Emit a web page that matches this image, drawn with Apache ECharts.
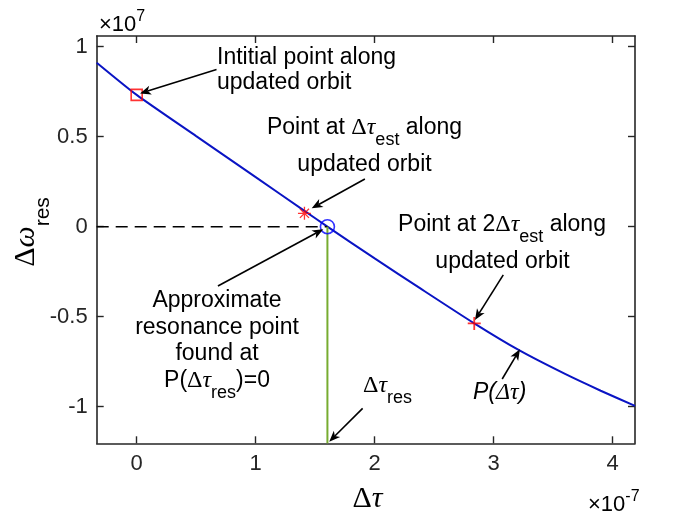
<!DOCTYPE html>
<html><head><meta charset="utf-8">
<script src="https://cdn.jsdelivr.net/npm/echarts@6/dist/echarts.min.js"></script>
<style>html,body{margin:0;padding:0;background:#fff}#c{width:676px;height:524px}</style>
</head><body><div id="c"></div>
<script>
// ---- data (x in units of 1e-7, y in units of 1e7) ----
const curveX = [-0.336, 0, 0.5, 1.0, 1.41, 1.603, 2.0, 2.4, 2.837, 3.221, 3.6, 3.9, 4.188];
const curveY = [0.911, 0.732, 0.503, 0.275, 0.088, 0.0, -0.176, -0.350, -0.537, -0.689, -0.818, -0.911, -0.995];
const initialPoint = [0, 0.732];
const estPoint = [1.41, 0.074];
const est2Point = [2.837, -0.537];
const resPoint = [1.603, 0];
const xTicks = [0, 1, 2, 3, 4];
const yTicks = [-1, -0.5, 0, 0.5, 1];
const xMin = -0.336, xMax = 4.188, yMin = -1.203, yMax = 1.059;

// annotation arrows in data coordinates [from, to]
const arrows = [
  [[0.671, 0.873], [0.028, 0.740]],
  [[1.918, 0.265], [1.471, 0.102]],
  [[0.683, -0.329], [1.568, -0.014]],
  [[3.081, -0.268], [2.843, -0.518]],
  [[3.072, -0.846], [3.221, -0.681]],
  [[1.899, -1.009], [1.618, -1.194]]
];

const AX = '#262626';
const SANS = 'Liberation Sans';
const SERIF = 'Liberation Serif';
const chart = echarts.init(document.getElementById('c'), null, {renderer: 'canvas'});

function axisCommon(pos, ticks, showLabel) {
  return {
    type: 'value', position: pos, min: pos === 'bottom' || pos === 'top' ? xMin : yMin,
    max: pos === 'bottom' || pos === 'top' ? xMax : yMax,
    axisLine: {show: true, onZero: false, lineStyle: {color: AX, width: 1.6}},
    axisTick: {show: true, inside: true, length: 7, customValues: ticks, lineStyle: {color: AX, width: 1.4}},
    axisLabel: {show: showLabel, customValues: ticks, fontFamily: SANS, fontSize: 22, color: AX,
      margin: pos === 'bottom' ? 10 : 9},
    splitLine: {show: false}
  };
}

chart.setOption({
  animation: false,
  backgroundColor: '#fff',
  grid: {left: 96.7, top: 36, width: 538.3, height: 407.3, containLabel: false},
  xAxis: [axisCommon('bottom', xTicks, true), axisCommon('top', xTicks, false)],
  yAxis: [axisCommon('left', yTicks, true), axisCommon('right', yTicks, false)],
  series: [
    {type: 'line', data: curveX.map((x, i) => [x, curveY[i]]), showSymbol: false, smooth: 0.2,
      lineStyle: {color: '#0a14c4', width: 2}, z: 2},
    {type: 'line', data: [[xMin, 0], resPoint], showSymbol: false,
      lineStyle: {color: '#000', width: 1.5, type: [12, 7]}, z: 3},
    {type: 'line', data: [resPoint, [resPoint[0], yMin]], showSymbol: false,
      lineStyle: {color: '#77ac30', width: 2}, z: 3},
    {type: 'scatter', data: [initialPoint], symbol: 'rect', symbolSize: 11,
      itemStyle: {color: 'rgba(0,0,0,0)', borderColor: '#ff0000', borderWidth: 1.6}, z: 5},
    {type: 'scatter', data: [estPoint], symbol: 'path://M5,0L5,10M0,5L10,5M1.5,1.5L8.5,8.5M1.5,8.5L8.5,1.5', symbolSize: 13,
      itemStyle: {color: 'rgba(0,0,0,0)', borderColor: '#ff0000', borderWidth: 1.3}, z: 5},
    {type: 'scatter', data: [est2Point], symbol: 'path://M5,0L5,10M0,5L10,5', symbolSize: 13,
      itemStyle: {color: 'rgba(0,0,0,0)', borderColor: '#ff0000', borderWidth: 1.8}, z: 5},
    {type: 'scatter', data: [resPoint], symbol: 'circle', symbolSize: 14,
      itemStyle: {color: 'rgba(0,0,0,0)', borderColor: '#0000ff', borderWidth: 1.6}, z: 5}
  ]
});

// ---- annotations ----
const rich = {
  n: {fontFamily: SANS, fontSize: 23, lineHeight: 26, verticalAlign: 'middle', color: '#000'},
  g: {fontFamily: SERIF, fontSize: 24, lineHeight: 26, verticalAlign: 'middle', color: '#000'},
  gi: {fontFamily: SERIF, fontStyle: 'italic', fontSize: 24, lineHeight: 26, verticalAlign: 'middle', color: '#000'},
  s: {fontFamily: SANS, fontSize: 18, lineHeight: 26, verticalAlign: 'middle', padding: [24, 0, 0, 0], color: '#000'},
  ni: {fontFamily: SANS, fontStyle: 'italic', fontSize: 23, lineHeight: 26, verticalAlign: 'middle', color: '#000'},
  L: {fontFamily: SERIF, fontSize: 30, lineHeight: 32, verticalAlign: 'middle', color: '#000'},
  Li: {fontFamily: SERIF, fontStyle: 'italic', fontSize: 30, lineHeight: 32, verticalAlign: 'middle', color: '#000'},
  Ls: {fontFamily: SANS, fontSize: 21, lineHeight: 32, verticalAlign: 'middle', padding: [34, 0, 0, 0], color: '#000'},
  t: {fontFamily: SANS, fontSize: 22, lineHeight: 24, verticalAlign: 'middle', color: AX},
  e: {fontFamily: SANS, fontSize: 16, lineHeight: 24, verticalAlign: 'middle', padding: [0, 0, 16, 0], color: AX}
};
function txt(x, y, text, align, extra) {
  return Object.assign({type: 'text', x: x, y: y, z: 100, silent: true,
    style: {text: text, rich: rich, align: align, verticalAlign: 'middle', fill: '#000'}}, extra || {});
}
const texts = [
  txt(217, 58, '{n|Intitial point along}', 'left'),
  txt(217, 83, '{n|updated orbit}', 'left'),
  txt(364.5, 128, '{n|Point at }{g|Δ}{gi|τ}{s|est}{n| along}', 'center'),
  txt(364.5, 164.5, '{n|updated orbit}', 'center'),
  txt(502, 225, '{n|Point at 2}{g|Δ}{gi|τ}{s|est}{n| along}', 'center'),
  txt(502.5, 262, '{n|updated orbit}', 'center'),
  txt(217, 301, '{n|Approximate}', 'center'),
  txt(217, 327.5, '{n|resonance point}', 'center'),
  txt(217, 354, '{n|found at}', 'center'),
  txt(217, 381, '{n|P(}{g|Δ}{gi|τ}{s|res}{n|)=0}', 'center'),
  txt(363, 386, '{g|Δ}{gi|τ}{s|res}', 'left'),
  txt(473, 393, '{ni|P(}{gi|Δτ}{ni|)}', 'left'),
  txt(367.5, 499, '{L|Δ}{Li|τ}', 'center'),
  txt(26, 232, '{L|Δ}{Li|ω}{Ls|res}', 'center', {rotation: Math.PI / 2}),
  txt(99, 25, '{t|×10}{e|7}', 'left'),
  txt(588, 505, '{t|×10}{e|-7}', 'left')
];

const arrowEls = [];
arrows.forEach(function (a) {
  const p0 = chart.convertToPixel({gridIndex: 0}, a[0]);
  const p1 = chart.convertToPixel({gridIndex: 0}, a[1]);
  const dx = p1[0] - p0[0], dy = p1[1] - p0[1];
  const len = Math.sqrt(dx * dx + dy * dy);
  const ux = dx / len, uy = dy / len, nx = -uy, ny = ux;
  const L = 11, W = 4.5, notch = 8;
  const back = [p1[0] - ux * L, p1[1] - uy * L];
  const mid = [p1[0] - ux * notch, p1[1] - uy * notch];
  arrowEls.push({type: 'line', z: 90, silent: true,
    shape: {x1: p0[0], y1: p0[1], x2: mid[0], y2: mid[1]},
    style: {stroke: '#000', lineWidth: 1.6}});
  arrowEls.push({type: 'polygon', z: 91, silent: true,
    shape: {points: [p1, [back[0] + nx * W, back[1] + ny * W], mid, [back[0] - nx * W, back[1] - ny * W]]},
    style: {fill: '#000'}});
});

chart.setOption({graphic: {elements: texts.concat(arrowEls)}});
</script>
</body></html>
